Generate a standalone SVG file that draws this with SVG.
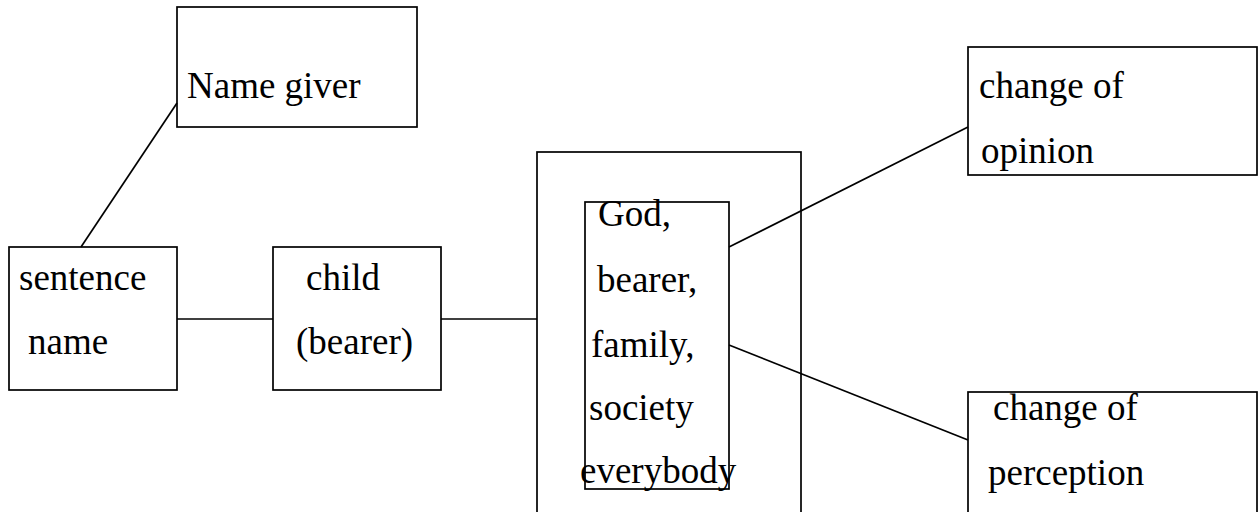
<svg xmlns="http://www.w3.org/2000/svg" width="1259" height="512" viewBox="0 0 1259 512">
<style>
rect{fill:none;stroke:#000;stroke-width:1.7}
line{stroke:#000;stroke-width:1.7}
text{font-family:"Liberation Serif","Times New Roman",serif;font-size:37px;fill:#000}
</style>
<rect x="0" y="0" width="1259" height="512" style="fill:#fff;stroke:none"/>
<g id="connectors">
<line x1="81" y1="247" x2="177" y2="103"/>
<line x1="177" y1="319" x2="273" y2="319"/>
<line x1="441" y1="319" x2="537" y2="319"/>
<line x1="729" y1="247" x2="968" y2="127"/>
<line x1="729" y1="345" x2="968" y2="440"/>
</g>
<g id="name-giver">
<rect x="177" y="7" width="240" height="120"/>
<text x="187" y="98">Name giver</text>
</g>
<g id="sentence-name">
<rect x="9" y="247" width="168" height="143"/>
<text x="19" y="290">sentence</text>
<text x="28" y="354">name</text>
</g>
<g id="child">
<rect x="273" y="247" width="168" height="143"/>
<text x="306" y="290">child</text>
<text x="296" y="354">(bearer)</text>
</g>
<g id="outer">
<rect x="537" y="152" width="264" height="380"/>
</g>
<g id="inner">
<rect x="585" y="202" width="144" height="287"/>
<text x="598" y="226">God,</text>
<text x="597" y="292">bearer,</text>
<text x="591" y="357">family,</text>
<text x="589" y="420">society</text>
<text x="580" y="483">everybody</text>
</g>
<g id="change-opinion">
<rect x="968" y="47" width="289" height="128"/>
<text x="979" y="98">change of</text>
<text x="981" y="163">opinion</text>
</g>
<g id="change-perception">
<rect x="968" y="392" width="289" height="140"/>
<text x="993" y="420">change of</text>
<text x="988" y="485">perception</text>
</g>
</svg>
